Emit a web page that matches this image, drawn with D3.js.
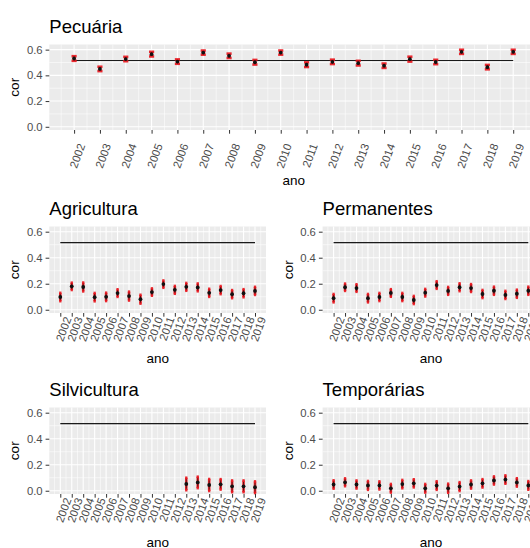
<!DOCTYPE html>
<html>
<head>
<meta charset="utf-8">
<script src="https://cdn.jsdelivr.net/npm/d3@7"></script>
<style>
  html, body { margin: 0; padding: 0; background: #ffffff; }
  svg { display: block; font-family: "Liberation Sans", Arial, sans-serif; }
</style>
</head>
<body>
<svg id="chart" width="530" height="548"></svg>
<script>
// ---------------- data ----------------
const years = [2002, 2003, 2004, 2005, 2006, 2007, 2008, 2009, 2010,
               2011, 2012, 2013, 2014, 2015, 2016, 2017, 2018, 2019];
const yTicks = [0.0, 0.2, 0.4, 0.6];
const yTickLabels = ["0.0", "0.2", "0.4", "0.6"];
const referenceValue = 0.516;

const pecuaria    = [0.531, 0.450, 0.527, 0.565, 0.507, 0.577, 0.552, 0.502, 0.577,
                     0.483, 0.505, 0.495, 0.475, 0.526, 0.504, 0.583, 0.464, 0.583];
const pecuariaErr = [0.018, 0.017, 0.017, 0.018, 0.017, 0.016, 0.017, 0.018, 0.016,
                     0.018, 0.017, 0.018, 0.017, 0.019, 0.017, 0.016, 0.017, 0.016];

const agricultura    = [0.098, 0.180, 0.175, 0.097, 0.099, 0.128, 0.105, 0.081, 0.136,
                        0.197, 0.153, 0.176, 0.172, 0.130, 0.151, 0.120, 0.127, 0.145];
const agriculturaErr = [0.032, 0.028, 0.034, 0.032, 0.032, 0.029, 0.034, 0.034, 0.028,
                        0.028, 0.030, 0.030, 0.030, 0.031, 0.031, 0.031, 0.031, 0.031];

const permanentes    = [0.089, 0.173, 0.167, 0.089, 0.098, 0.129, 0.098, 0.075, 0.131,
                        0.190, 0.145, 0.173, 0.167, 0.121, 0.146, 0.114, 0.123, 0.146];
const permanentesErr = [0.032, 0.028, 0.029, 0.032, 0.031, 0.029, 0.031, 0.031, 0.029,
                        0.029, 0.030, 0.030, 0.030, 0.031, 0.031, 0.031, 0.031, 0.031];

const silvicultura    = [null, null, null, null, null, null, null, null, null,
                         null, null, 0.052, 0.064, 0.044, 0.049, 0.034, 0.034, 0.027];
const silviculturaErr = [null, null, null, null, null, null, null, null, null,
                         null, null, 0.048, 0.044, 0.046, 0.040, 0.045, 0.045, 0.045];

const temporarias    = [0.048, 0.065, 0.048, 0.041, 0.041, 0.019, 0.051, 0.057, 0.019,
                        0.040, 0.019, 0.032, 0.048, 0.057, 0.079, 0.086, 0.064, 0.041];
const temporariasErr = [0.032, 0.030, 0.031, 0.034, 0.031, 0.033, 0.032, 0.031, 0.033,
                        0.033, 0.035, 0.034, 0.031, 0.032, 0.031, 0.032, 0.032, 0.033];

// ---------------- layout ----------------
const panels = [
  { title: "Pecuária",     values: pecuaria,     errs: pecuariaErr,     x0: 49.3,  y0: 44.5,  w: 488.7, h: 85.5, titleY: 33,  xTitleY: 185,   labDy: 14,  capW: 0.2 },
  { title: "Agricultura",  values: agricultura,  errs: agriculturaErr,  x0: 49.3,  y0: 226.5, w: 216.7, h: 86.5, titleY: 215, xTitleY: 363.3, labDy: 4.3, capW: 0.2 },
  { title: "Permanentes",  values: permanentes,  errs: permanentesErr,  x0: 322.6, y0: 226.5, w: 216.7, h: 86.5, titleY: 215, xTitleY: 363.3, labDy: 4.3, capW: 0.2 },
  { title: "Silvicultura", values: silvicultura, errs: silviculturaErr, x0: 49.3,  y0: 407.5, w: 216.7, h: 86.5, titleY: 396, xTitleY: 546.5, labDy: 4.3, capW: 0.2 },
  { title: "Temporárias",  values: temporarias,  errs: temporariasErr,  x0: 322.6, y0: 407.5, w: 216.7, h: 86.5, titleY: 396, xTitleY: 546.5, labDy: 4.3, capW: 0.2 }
];

const svg = d3.select("#chart");
const xDomain = [2001.04, 2019.96];
const yDomain = [-0.025, 0.64];

panels.forEach(p => {
  const g = svg.append("g");
  const x = d3.scaleLinear().domain(xDomain).range([p.x0, p.x0 + p.w]);
  const y = d3.scaleLinear().domain(yDomain).range([p.y0 + p.h, p.y0]);

  // background
  g.append("rect").attr("x", p.x0).attr("y", p.y0).attr("width", p.w).attr("height", p.h)
    .attr("fill", "#EBEBEB");

  // minor grid
  const xMinor = [2001.5].concat(years.map(d => d + 0.5));
  const yMinor = [0.1, 0.3, 0.5];
  g.selectAll(".xminor").data(xMinor).enter().append("line")
    .attr("x1", d => x(d)).attr("x2", d => x(d)).attr("y1", p.y0).attr("y2", p.y0 + p.h)
    .attr("stroke", "#fff").attr("stroke-width", 0.55);
  g.selectAll(".yminor").data(yMinor).enter().append("line")
    .attr("x1", p.x0).attr("x2", p.x0 + p.w).attr("y1", d => y(d)).attr("y2", d => y(d))
    .attr("stroke", "#fff").attr("stroke-width", 0.55);
  // major grid
  g.selectAll(".xmajor").data(years).enter().append("line")
    .attr("x1", d => x(d)).attr("x2", d => x(d)).attr("y1", p.y0).attr("y2", p.y0 + p.h)
    .attr("stroke", "#fff").attr("stroke-width", 1.1);
  g.selectAll(".ymajor").data(yTicks).enter().append("line")
    .attr("x1", p.x0).attr("x2", p.x0 + p.w).attr("y1", d => y(d)).attr("y2", d => y(d))
    .attr("stroke", "#fff").attr("stroke-width", 1.1);

  // reference segment
  g.append("line")
    .attr("x1", x(years[0])).attr("x2", x(years[years.length - 1]))
    .attr("y1", y(referenceValue)).attr("y2", y(referenceValue))
    .attr("stroke", "#1a1a1a").attr("stroke-width", 1.1);

  const pts = years.map((yr, i) => ({ yr, v: p.values[i], e: p.errs[i] }))
                   .filter(d => d.v !== null);
  const half = p.capW / 2;

  // red error bars
  const eb = g.append("g");
  pts.forEach(d => {
    const lo = y(d.v - d.e), hi = y(d.v + d.e);
    eb.append("line").attr("x1", x(d.yr)).attr("x2", x(d.yr)).attr("y1", lo).attr("y2", hi)
      .attr("stroke", "#E8141C").attr("stroke-width", 2.6).attr("stroke-opacity", 0.9);
    [lo, hi].forEach(yy => {
      eb.append("line").attr("x1", x(d.yr - half)).attr("x2", x(d.yr + half))
        .attr("y1", yy).attr("y2", yy)
        .attr("stroke", "#E8141C").attr("stroke-width", 2.6).attr("stroke-opacity", 0.9);
    });
    // thin dark core
    eb.append("line").attr("x1", x(d.yr)).attr("x2", x(d.yr))
      .attr("y1", y(d.v - d.e * 0.75)).attr("y2", y(d.v + d.e * 0.75))
      .attr("stroke", "#3a0a0a").attr("stroke-width", 0.8);
    eb.append("circle").attr("cx", x(d.yr)).attr("cy", y(d.v)).attr("r", 1.9)
      .attr("fill", "#111");
  });

  // y axis
  const ya = g.append("g").attr("transform", `translate(${p.x0},0)`)
    .call(d3.axisLeft(y).tickValues(yTicks).tickFormat((d, i) => yTickLabels[i])
      .tickSize(3.7).tickPadding(3));
  ya.select(".domain").remove();
  ya.selectAll(".tick line").attr("stroke", "#333").attr("stroke-width", 1);
  ya.selectAll(".tick text").attr("fill", "#4D4D4D").style("font-size", "11.3px")
    .attr("font-family", null);

  // x axis
  const xa = g.append("g").attr("transform", `translate(0,${p.y0 + p.h})`)
    .call(d3.axisBottom(x).tickValues(years).tickFormat(d => String(d)).tickSize(3.7));
  xa.select(".domain").remove();
  xa.selectAll(".tick line").attr("stroke", "#333").attr("stroke-width", 1);
  xa.selectAll(".tick text")
    .attr("x", 0).attr("y", 0).attr("dy", null)
    .attr("dominant-baseline", "central")
    .attr("text-anchor", "end")
    .attr("transform", `translate(7,${p.labDy}) rotate(-70)`)
    .attr("fill", "#4D4D4D").style("font-size", "11.3px").attr("font-family", null);

  // titles
  g.append("text").attr("x", p.x0).attr("y", p.titleY).text(p.title)
    .attr("fill", "#000").style("font-size", "18.5px");
  g.append("text").attr("x", p.x0 + p.w / 2).attr("y", p.xTitleY).attr("text-anchor", "middle")
    .text("ano").attr("fill", "#000").style("font-size", "13.5px");
  g.append("text")
    .attr("transform", `translate(${p.x0 - 30},${p.y0 + p.h / 2}) rotate(-90)`)
    .attr("text-anchor", "middle").text("cor").attr("fill", "#000").style("font-size", "13.5px");
});
</script>
</body>
</html>
